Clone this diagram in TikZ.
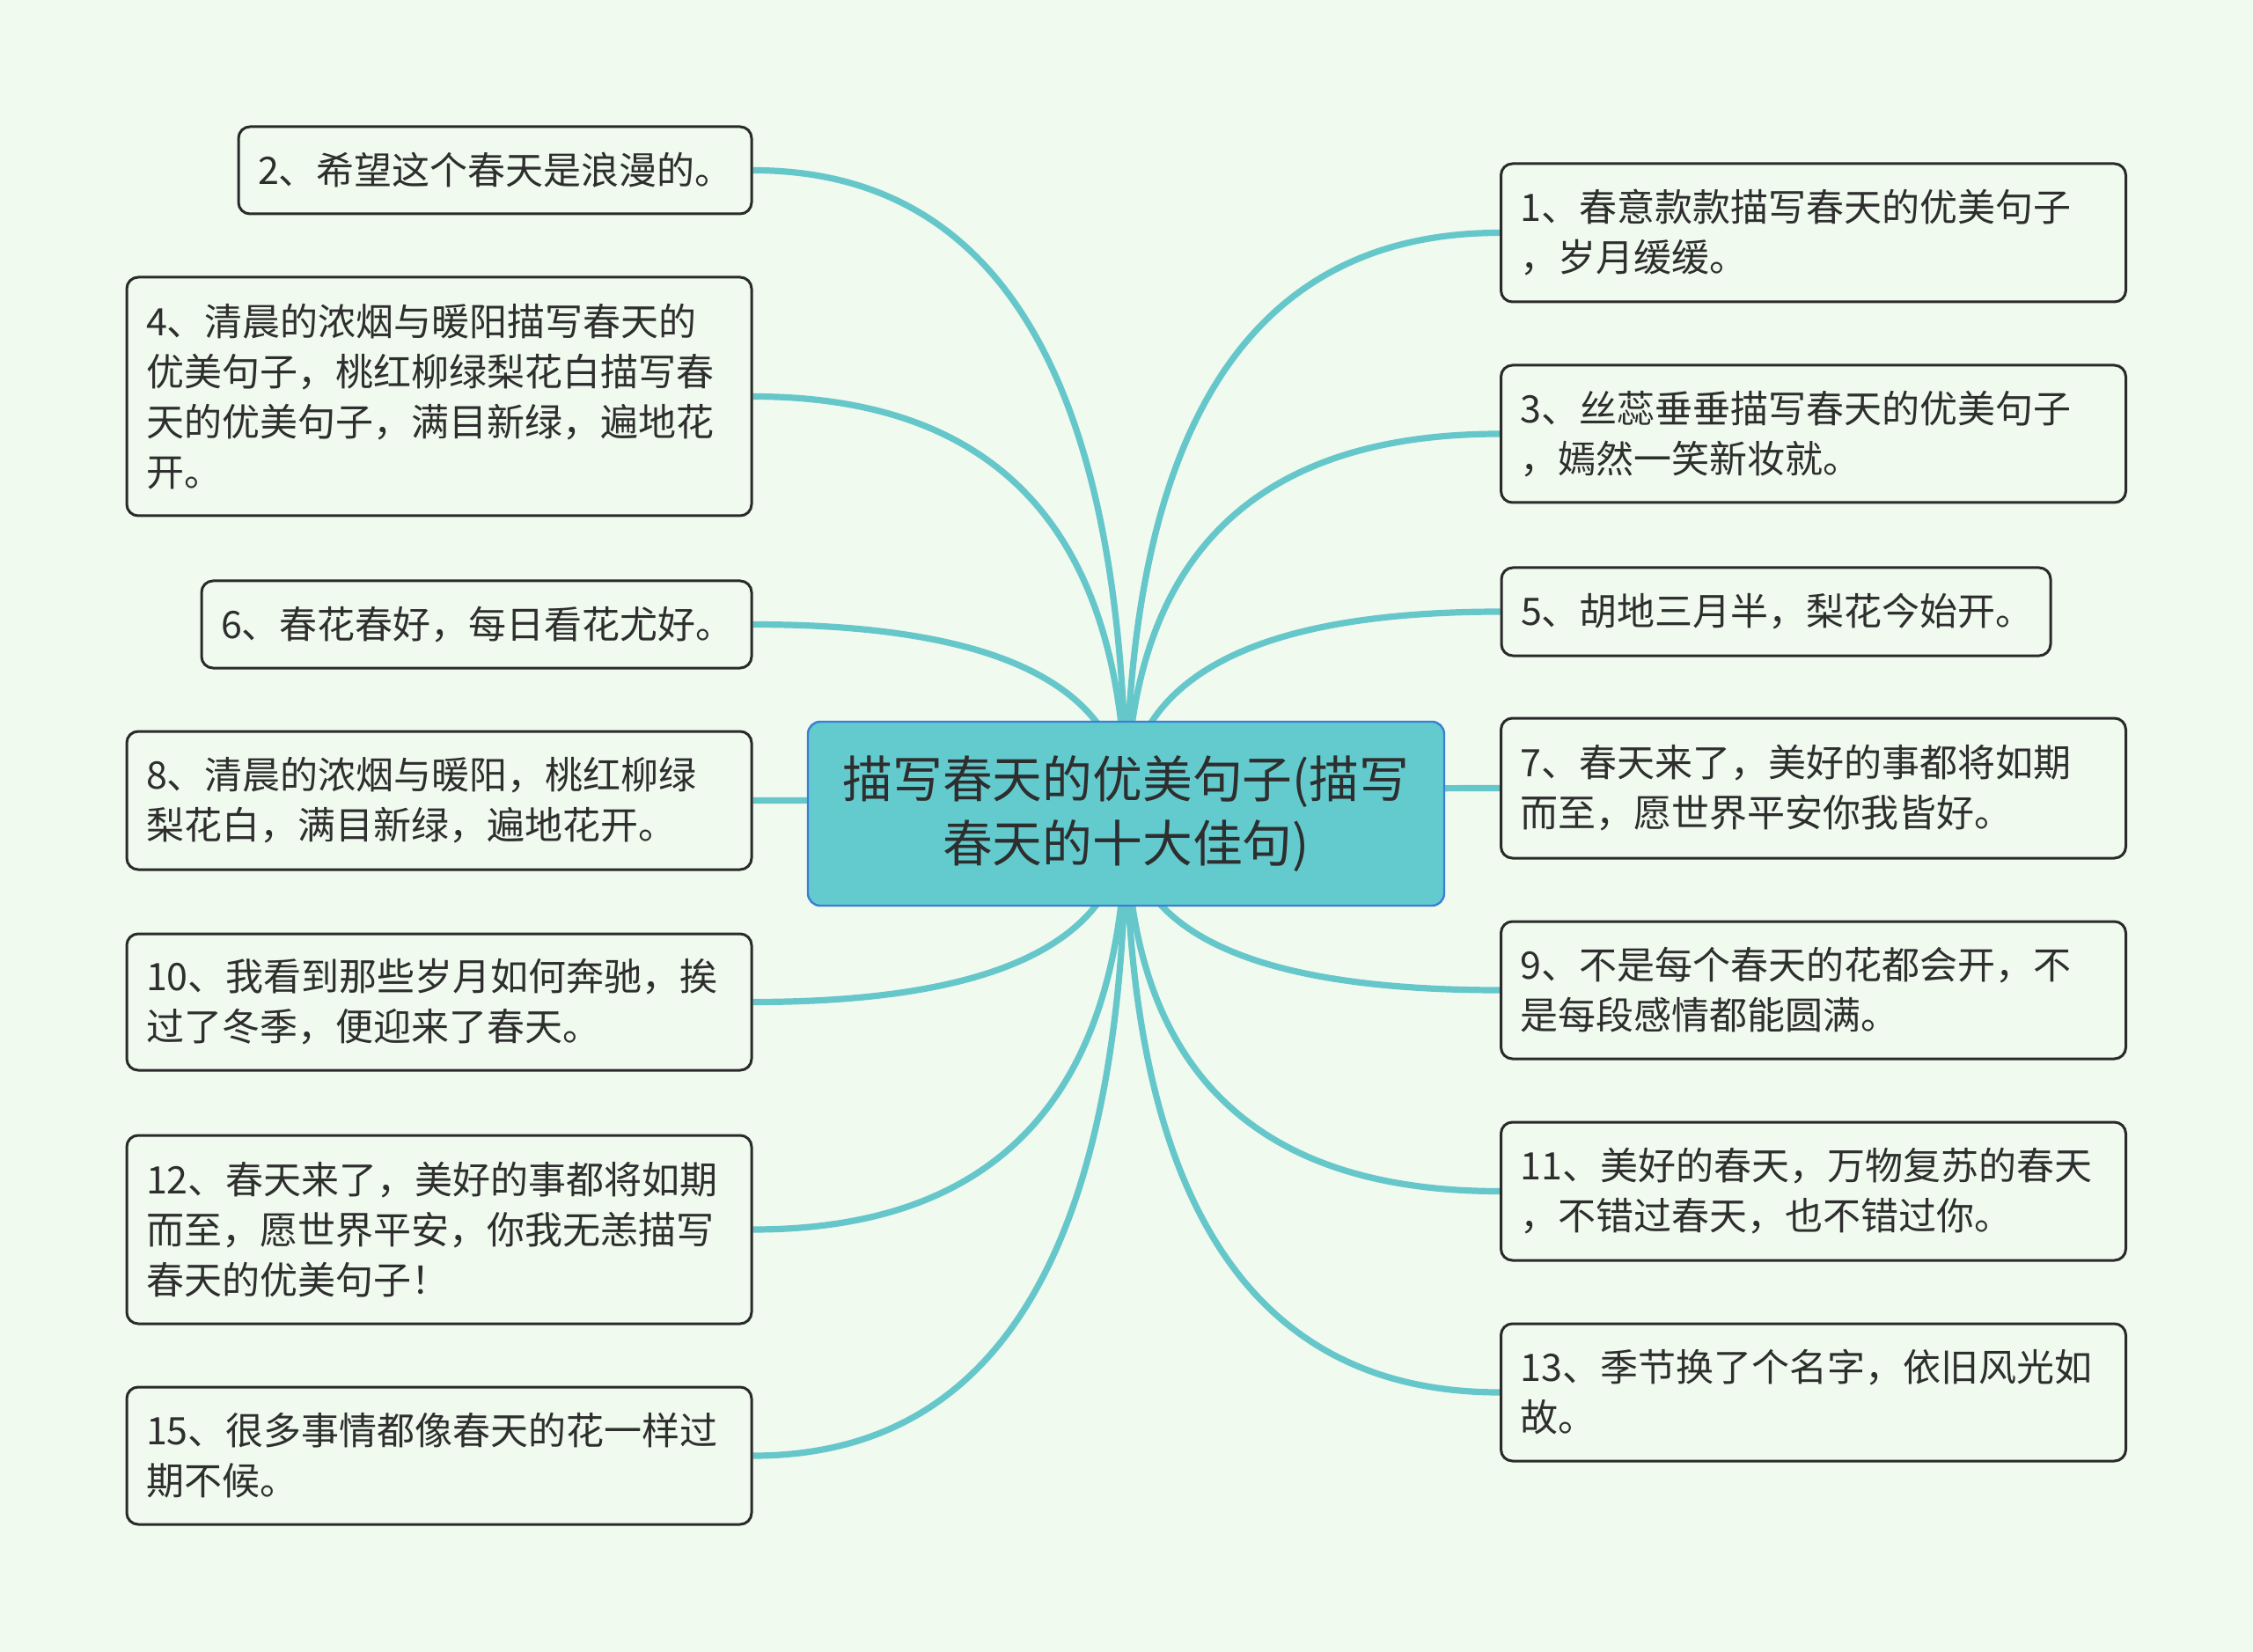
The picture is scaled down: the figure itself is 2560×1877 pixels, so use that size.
\documentclass[tikz,border=0pt]{standalone}
\usepackage{fontspec}
\usetikzlibrary{calc}
\newfontfamily\cjk{Noto Sans CJK SC}
\definecolor{bgc}{HTML}{F0FAEF}
\definecolor{linec}{HTML}{66C7CB}
\definecolor{rootfill}{HTML}{63CBCE}
\definecolor{rootdraw}{HTML}{3A7FD6}
\definecolor{txt}{HTML}{2E2E2E}
\definecolor{leafdraw}{HTML}{2A2A2A}
\pgfdeclarelayer{bglayer}
\pgfsetlayers{bglayer,main}
\begin{document}
\begin{tikzpicture}[x=0.5pt,y=-0.5pt,
  leaf/.style={draw=leafdraw, line width=1.5pt, fill=bgc, rounded corners=6.5pt,
    inner sep=0pt, align=left, text=txt, font=\cjk\fontsize{21.5pt}{28.5pt}\selectfont},
  wide/.style={minimum width=355pt, text width=333pt},
  root/.style={draw=rootdraw, line width=1.2pt, fill=rootfill, rounded corners=7pt,
    inner sep=0pt, align=center, text=txt, font=\cjk\fontsize{28.4pt}{36.75pt}\selectfont,
    minimum width=361.5pt, minimum height=104.5pt},
  conn/.style={draw=linec, line width=3.6pt}]
\begin{pgfonlayer}{bglayer}
  \fill[bgc] (0,0) rectangle (2560,1877);
\end{pgfonlayer}
\useasboundingbox (0,0) rectangle (2560,1877);

\node[root] (c) at (1279.5,924.5) {描写春天的优美句子(描写\\春天的十大佳句)};

% left
\node[leaf, minimum width=291.5pt, text width=269.5pt, minimum height=49.5pt] (l2) at (562.5,193.5) {2、希望这个春天是浪漫的。};
\node[leaf, wide, minimum height=135.5pt] (l4) at (499,450.5) {4、清晨的浓烟与暖阳描写春天的\\优美句子，桃红柳绿梨花白描写春\\天的优美句子，满目新绿，遍地花\\开。};
\node[leaf, minimum width=312.5pt, text width=290.5pt, minimum height=49.5pt] (l6) at (541.5,709.5) {6、春花春好，每日看花尤好。};
\node[leaf, wide, minimum height=78.5pt] (l8) at (499,909.5) {8、清晨的浓烟与暖阳，桃红柳绿\\梨花白，满目新绿，遍地花开。};
\node[leaf, wide, minimum height=77.5pt] (l10) at (499,1138.5) {10、我看到那些岁月如何奔驰，挨\\过了冬季，便迎来了春天。};
\node[leaf, wide, minimum height=107pt] (l12) at (499,1397) {12、春天来了，美好的事都将如期\\而至，愿世界平安，你我无恙描写\\春天的优美句子！};
\node[leaf, wide, minimum height=78pt] (l15) at (499,1654) {15、很多事情都像春天的花一样过\\期不候。};

% right
\node[leaf, wide, minimum height=78.5pt] (r1) at (2060.5,264.5) {1、春意款款描写春天的优美句子\\，岁月缓缓。};
\node[leaf, wide, minimum height=78pt] (r3) at (2060.5,493) {3、丝蕊垂垂描写春天的优美句子\\，嫣然一笑新妆就。};
\node[leaf, minimum width=312pt, text width=290pt, minimum height=50pt] (r5) at (2018,695) {5、胡地三月半，梨花今始开。};
\node[leaf, wide, minimum height=79.5pt] (r7) at (2060.5,895.5) {7、春天来了，美好的事都将如期\\而至，愿世界平安你我皆好。};
\node[leaf, wide, minimum height=78pt] (r9) at (2060.5,1125) {9、不是每个春天的花都会开，不\\是每段感情都能圆满。};
\node[leaf, wide, minimum height=78.5pt] (r11) at (2060.5,1353.5) {11、美好的春天，万物复苏的春天\\，不错过春天，也不错过你。};
\node[leaf, wide, minimum height=78pt] (r13) at (2060.5,1582) {13、季节换了个名字，依旧风光如\\故。};

\begin{pgfonlayer}{bglayer}
  \foreach \n in {l2,l4,l6,l8,l10,l12,l15}
    \draw[conn] (c.center) .. controls ($(c.center)!0.6667!(c.center |- \n.east)$)
      and ($(\n.east)!0.6667!(c.center |- \n.east)$) .. (\n.east);
  \foreach \n in {r1,r3,r5,r7,r9,r11,r13}
    \draw[conn] (c.center) .. controls ($(c.center)!0.6667!(c.center |- \n.west)$)
      and ($(\n.west)!0.6667!(c.center |- \n.west)$) .. (\n.west);
\end{pgfonlayer}
\end{tikzpicture}
\end{document}
